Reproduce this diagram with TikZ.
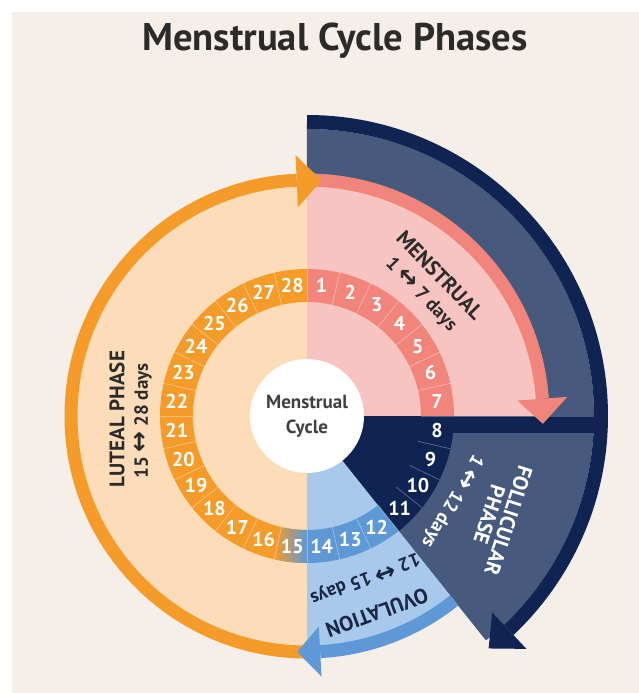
\documentclass[tikz,border=0pt]{standalone}
\usepackage{fontspec}
\setmainfont{PT Sans}
\newfontfamily\arrowfont{DejaVu Sans}
\newcommand\twoway{{\arrowfont\bfseries\fontsize{12.5}{12}\selectfont ↔}}

\definecolor{paper}{HTML}{F6EEE8}
\definecolor{ink}{HTML}{2B2B2B}
\definecolor{slate}{HTML}{47597D}
\definecolor{navy}{HTML}{0F2452}
\definecolor{pink}{HTML}{F7C4C1}
\definecolor{salmon}{HTML}{F1857B}
\definecolor{lightblue}{HTML}{A8C9EC}
\definecolor{midblue}{HTML}{5E98D6}
\definecolor{orange}{HTML}{F49B2A}
\definecolor{peach}{HTML}{FDDDB9}
\definecolor{ovink}{HTML}{1B2644}

\tikzset{
  band/.style={line width=6.5pt},
  daynum/.style={text=white, font=\bfseries\fontsize{10}{10}\selectfont, inner sep=0pt},
  phase/.style={font=\bfseries\fontsize{10.5}{10}\selectfont, inner sep=0pt, align=center},
  days/.style={font=\bfseries\fontsize{9.5}{11}\selectfont, inner sep=0pt},
}

\begin{document}
\begin{tikzpicture}[x=0.5pt,y=0.5pt]
\useasboundingbox (-307,-277) rectangle (332,416);
\fill[white] (-307,-277) rectangle (332,416);
\fill[paper] (-295,-277) rectangle (332,404);
\node[font=\bfseries\fontsize{19.3}{21}\selectfont, text=ink] (title) at (28,375) {Menstrual Cycle Phases};
% follicular phase
\fill[slate] (0,0) -- (90:287) arc[start angle=90, end angle=-51.43, radius=287] -- cycle;
\draw[navy, line width=7pt] (90:294) arc[start angle=90, end angle=-46.7, radius=294];
\fill[navy] (-46.7:270) -- (-52:295) -- (-46.7:320) -- cycle;
% quarters
\fill[pink] (0,0) -- (90:236) arc[start angle=90, end angle=0, radius=236] -- cycle;
\fill[lightblue] (0,0) -- (-51.43:236) arc[start angle=-51.43, end angle=-90, radius=236] -- cycle;
\fill[peach] (0,0) -- (90:236) arc[start angle=90, end angle=270, radius=236] -- cycle;
\fill[navy] (143,-1) rectangle (287,-17);
\fill[navy] (0,0) -- (0:147) arc[start angle=0, end angle=-51.43, radius=147] -- cycle;
% arrows
\draw[salmon, band] (90:236) arc[start angle=90, end angle=4.2, radius=236];
\fill[salmon] (4.2:211) -- (-1.9:236) -- (4.2:261) -- cycle;
\draw[orange, band] (270:236) arc[start angle=270, end angle=92.5, radius=236];
\fill[orange] (92.5:209) -- (86.4:236) -- (92.5:261) -- cycle;
\draw[midblue, band] (-51.43:236) arc[start angle=-51.43, end angle=-86.8, radius=236];
\fill[midblue] (-86.8:211) -- (-92.4:236) -- (-86.8:261) -- cycle;
% day ring
\foreach \k in {1,...,28}{
  \pgfmathsetmacro\a{90-(\k-1)*360/28}
  \pgfmathsetmacro\b{90-\k*360/28}
  \ifnum\k<8 \def\segc{salmon}\else\ifnum\k<12 \def\segc{navy}\else\ifnum\k<15 \def\segc{midblue}\else\def\segc{orange}\fi\fi\fi
  \fill[\segc] (\a:114) arc[start angle=\a, end angle=\b, radius=114] -- (\b:147) arc[start angle=\b, end angle=\a, radius=147] -- cycle;
}
\shade[left color=orange, right color=midblue] ({90-14*360/28}:114) arc[start angle={90-14*360/28}, end angle={90-15*360/28}, radius=114] -- ({90-15*360/28}:147) arc[start angle={90-15*360/28}, end angle={90-14*360/28}, radius=147] -- cycle;
\foreach \k in {0,...,27}
  \draw[white, opacity=0.3, line width=0.4pt] ({90-\k*360/28}:114) -- ({90-\k*360/28}:147);
\foreach \k in {1,...,28}
  \node[daynum] (d\k) at ({90-(\k-0.5)*360/28}:131) {\k};
% centre
\fill[white] (0,0) circle[radius=57];
\node[font=\bfseries\fontsize{9.5}{12.5}\selectfont, text=ink!90, align=center] (centre) at (0,0) {Menstrual\\Cycle};
% labels
\node[phase, text=ink, rotate=-46] (menstrual) at (133,141) {MENSTRUAL};
\node[days, text=ink, rotate=-46] (mensdays) at (114,121) {1 \twoway{} 7 days};
\node[phase, text=white, rotate=-108] (follicular) at (192,-102) {FOLLICULAR\\PHASE};
\node[days, text=white, rotate=-120] (folldays) at (145,-85) {1 \twoway{} 12 days};
\node[phase, text=ovink, rotate=200] (ovulation) at (70,-197) {OVULATION};
\node[days, text=ovink, rotate=201] (ovdays) at (58,-162) {12 \twoway{} 15 days};
\node[phase, text=ink, rotate=90] (luteal) at (-190,-3) {LUTEAL PHASE};
\node[days, text=ink, rotate=90] (lutdays) at (-164,-5) {15 \twoway{} 28 days};
\end{tikzpicture}
\end{document}
